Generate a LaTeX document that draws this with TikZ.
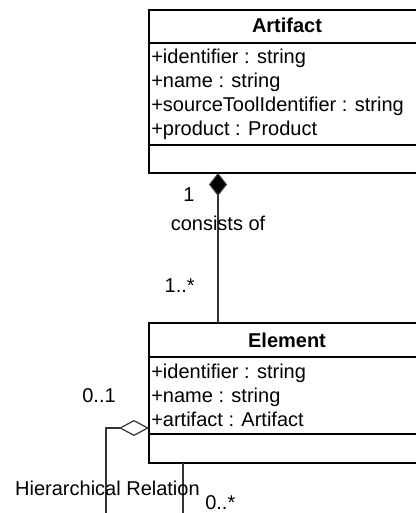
\documentclass[tikz,border=0pt]{standalone}
\usepackage{fontspec}
\setmainfont{Liberation Sans}
\usetikzlibrary{arrows.meta}
\begin{document}
\begin{tikzpicture}[x=0.75pt,y=-0.75pt,
  umlbox/.style={draw=black,line width=0.9pt,minimum width=207pt,inner sep=0pt},
  txt/.style={inner sep=0pt,font=\fontsize{15}{18}\selectfont},
  ttl/.style={inner sep=0pt,font=\fontsize{15}{18}\selectfont\bfseries},
  conn/.style={draw=black!80,line width=0.9pt},
  comp/.style={{Diamond[length=17.25pt,width=13.5pt,fill=black]}-},
  agg/.style={{Diamond[open,length=22.5pt,width=12pt,fill=white]}-}]
\useasboundingbox (0,0) rectangle (415,513);
% Artifact class
\node[umlbox,minimum height=122.25pt] (art) at (287,91.5) {};
\draw[line width=0.9pt] (art.west |- 0,43) -- (art.east |- 0,43);
\draw[line width=0.9pt] (art.west |- 0,145) -- (art.east |- 0,145);
\node[ttl,anchor=base] (artt) at (287,33) {Artifact};
\node[txt,anchor=base west] (arta1) at (151,64) {+identifier : string};
\node[txt,anchor=base west] (arta2) at (151,88) {+name : string};
\node[txt,anchor=base west] (arta3) at (151,112) {+sourceToolIdentifier : string};
\node[txt,anchor=base west] (arta4) at (151,136) {+product : Product};
% Element class
\node[umlbox,minimum height=105pt] (el) at (287,393) {};
\draw[line width=0.9pt] (el.west |- 0,357) -- (el.east |- 0,357);
\draw[line width=0.9pt] (el.west |- 0,434) -- (el.east |- 0,434);
\node[ttl,anchor=base] (elt) at (287,347) {Element};
\node[txt,anchor=base west] (ela1) at (151,378) {+identifier : string};
\node[txt,anchor=base west] (ela2) at (151,402) {+name : string};
\node[txt,anchor=base west] (ela3) at (151,426) {+artifact : Artifact};
% composition
\coordinate (a1) at (218,173);
\coordinate (e1) at (218,323);
\draw[conn,comp] (a1) -- (e1);
\node[txt,anchor=base] (m1) at (189,201) {1};
\node[txt,anchor=base] (lc) at (218,230) {consists of};
\node[txt,anchor=base east] (m2) at (195,292) {1..*};
% hierarchical relation
\coordinate (e2) at (149,428);
\coordinate (h1) at (106,428);
\coordinate (h2) at (106,516);
\coordinate (e3) at (183,463);
\coordinate (h3) at (183,516);
\draw[conn,agg] (e2) -- (h1) -- (h2);
\draw[conn] (e3) -- (h3);
\node[txt,anchor=base] (m3) at (99,402) {0..1};
\node[txt,anchor=base east] (lh) at (200,495) {Hierarchical Relation};
\node[txt,anchor=base west] (m4) at (205,509) {0..*};
\end{tikzpicture}
\end{document}
